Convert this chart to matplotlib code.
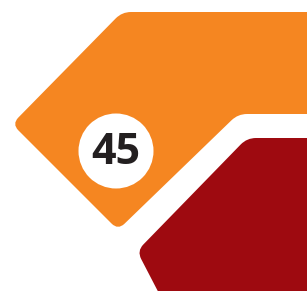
import numpy as np
import matplotlib.pyplot as plt
from matplotlib.path import Path
from matplotlib.patches import PathPatch, Circle

# badge value
label = "45"

# outline vertices of the two arrow shapes (pixel coords, y down)
orange_x = [122, 330, 330, 238, 118, 12]
orange_y = [12, 12, 114, 114, 230, 124]
red_x = [247, 330, 330, 178, 137]
red_y = [138, 138, 330, 330, 251]

orange = '#f58621'
red = '#9e0a10'


def rounded_path(xs, ys, r=8):
    # polygon with corners rounded by quadratic curves
    pts = np.column_stack([xs, ys]).astype(float)
    n = len(pts)
    verts, codes = [], []
    for i in range(n):
        p0, p1, p2 = pts[i-1], pts[i], pts[(i+1) % n]
        d1 = (p0-p1)/np.linalg.norm(p0-p1)
        d2 = (p2-p1)/np.linalg.norm(p2-p1)
        a = p1 + d1*r
        b = p1 + d2*r
        verts += [a, p1, b]
        codes += [Path.MOVETO if i == 0 else Path.LINETO, Path.CURVE3, Path.CURVE3]
    verts.append(verts[0])
    codes.append(Path.CLOSEPOLY)
    return Path(verts, codes)


fig = plt.figure(figsize=(3.07, 2.91), dpi=100)
ax = fig.add_axes([0, 0, 1, 1])
ax.set_xlim(0, 307)
ax.set_ylim(291, 0)
ax.axis('off')

ax.add_patch(PathPatch(rounded_path(orange_x, orange_y, 9), facecolor=orange, edgecolor='none'))
ax.add_patch(PathPatch(rounded_path(red_x, red_y, 9), facecolor=red, edgecolor='none'))
ax.add_patch(Circle((116, 151), 37.5, facecolor='white', edgecolor='none'))
ax.text(116, 152, label, ha='center', va='center', fontsize=31, fontweight='bold',
        family='Open Sans', color='#231f20')

fig.savefig('out.png', dpi=100)
